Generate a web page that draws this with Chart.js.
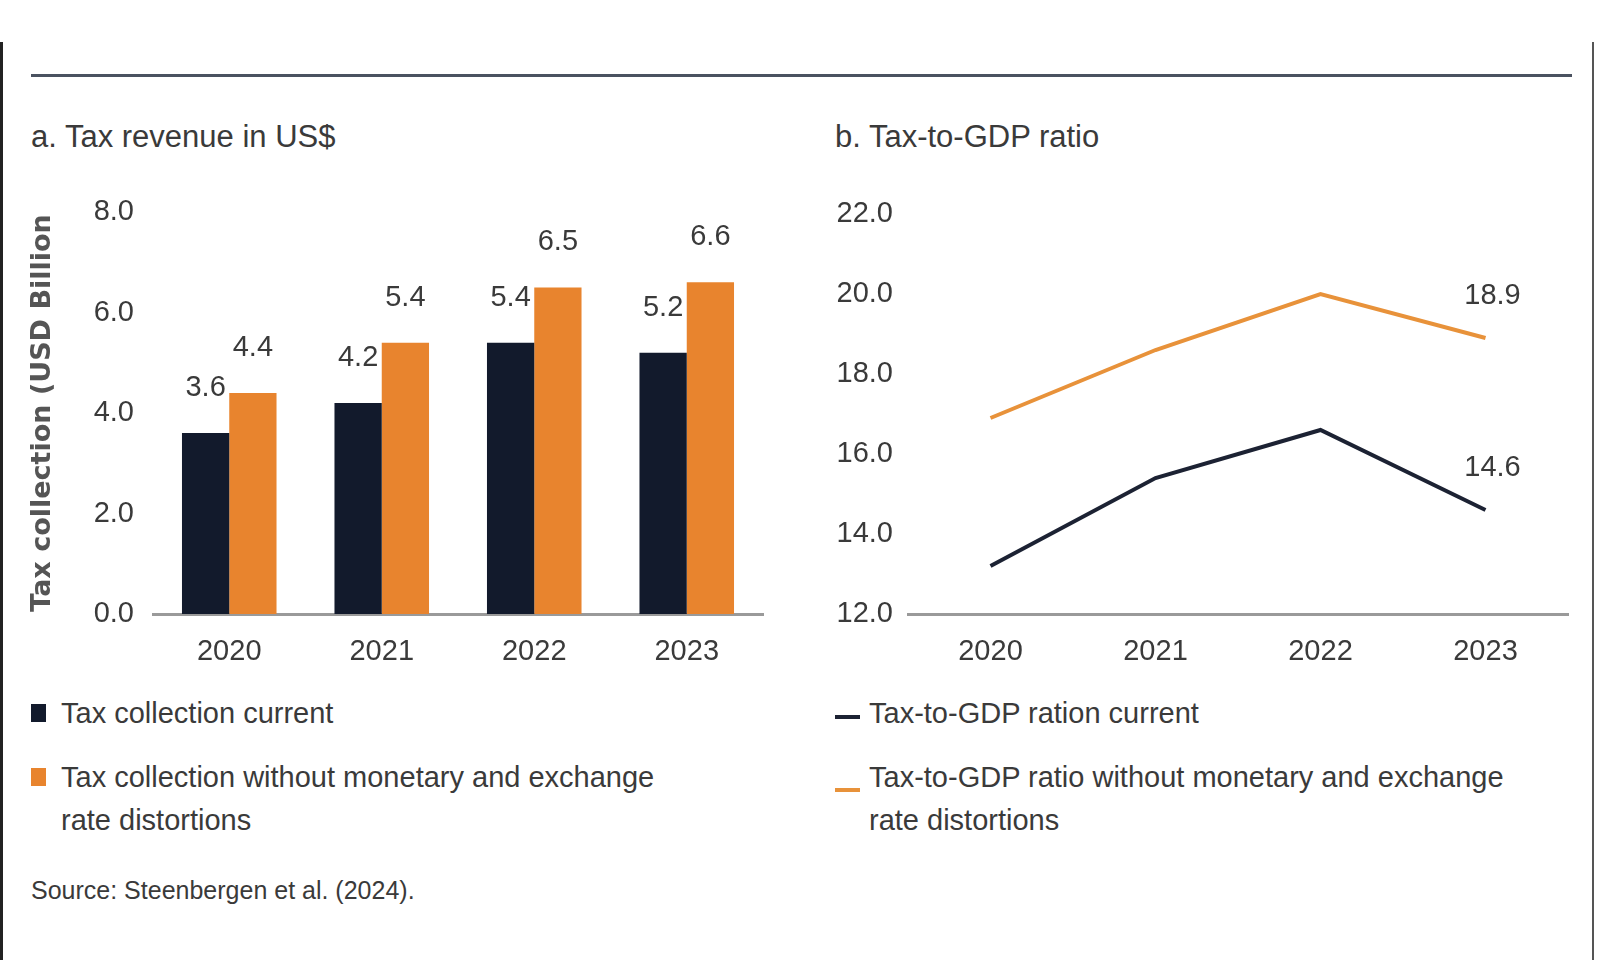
<!DOCTYPE html>
<html>
<head>
<meta charset="utf-8">
<script src="https://cdn.jsdelivr.net/npm/chart.js@4.4.1/dist/chart.umd.min.js"></script>
<style>
  body {
    margin: 0; width: 1600px; height: 960px; background: #fff;
    position: relative; overflow: hidden; color: #3a3a3a;
    font-family: 'Liberation Sans', Arial, sans-serif;
  }
  .frame-l { position: absolute; left: 0; top: 42px; width: 3px; height: 918px; background: #222; }
  .frame-r { position: absolute; left: 1592px; top: 42px; width: 2px; height: 918px; background: #555; }
  .rule { position: absolute; left: 31px; top: 74px; width: 1541px; height: 3px; background: #4a5260; }
  .title { position: absolute; top: 121px; font-size: 31px; line-height: 32px; white-space: nowrap; }
  .box { position: absolute; top: 190px; height: 490px; }
  .legend { position: absolute; top: 692px; font-size: 29px; line-height: 43px; }
  .item { position: relative; padding-left: 30px; white-space: nowrap; }
  .item.gap { margin-top: 21px; }
  .sq { position: absolute; left: 0; top: 12px; width: 15px; height: 18px; }
  .dash { position: absolute; left: 0; width: 25px; height: 4px; }
  .source { position: absolute; left: 31px; top: 874px; font-size: 25px; line-height: 32px; white-space: nowrap; }
</style>
</head>
<body>
<div class="frame-l"></div>
<div class="frame-r"></div>
<div class="rule"></div>

<div class="title" style="left:31px">a. Tax revenue in US$</div>
<div class="title" style="left:835px">b. Tax-to-GDP ratio</div>

<div class="box" style="left:0; width:780px"><canvas id="bar-chart"></canvas></div>
<div class="box" style="left:800px; width:790px"><canvas id="line-chart"></canvas></div>

<div class="legend" style="left:31px">
  <div class="item"><span class="sq" style="background:#121a2c"></span>Tax collection current</div>
  <div class="item gap"><span class="sq" style="background:#e8842e"></span>Tax collection without monetary and exchange<br>rate distortions</div>
</div>
<div class="legend" style="left:835px">
  <div class="item" style="padding-left:34px"><span class="dash" style="top:23px; background:#1c2233"></span>Tax-to-GDP ration current</div>
  <div class="item gap" style="padding-left:34px"><span class="dash" style="top:32px; background:#e8923a"></span>Tax-to-GDP ratio without monetary and exchange<br>rate distortions</div>
</div>

<div class="source">Source: Steenbergen et al. (2024).</div>

<script>
const years = ['2020', '2021', '2022', '2023'];

// panel a: tax collection, USD billion
const taxCurrent = [3.6, 4.2, 5.4, 5.2];
const taxUndistorted = [4.4, 5.4, 6.5, 6.6];

// panel b: tax-to-GDP ratio, %
const ratioCurrent = [13.2, 15.4, 16.6, 14.6];
const ratioUndistorted = [16.9, 18.6, 20.0, 18.9];

const barTicks = [0, 8, 2];    // min, max, step
const lineTicks = [12, 22, 2];

const NAVY = '#121a2c';
const ORANGE = '#e8842e';
const TEXT = '#3a3a3a';
const FONT = "'Liberation Sans', Arial, sans-serif";

// value labels above the marks
const valueLabels = {
    id: 'valueLabels',
    afterDatasetsDraw(chart, args, opts) {
        const ctx = chart.ctx;
        ctx.save();
        ctx.font = `29px ${FONT}`;
        ctx.fillStyle = TEXT;
        ctx.textAlign = 'center';
        ctx.textBaseline = 'middle';
        chart.data.datasets.forEach((ds, i) => {
            chart.getDatasetMeta(i).data.forEach((el, j) => {
                if (opts.lastOnly && j !== ds.data.length - 1) return;
                ctx.fillText(ds.data[j].toFixed(1), el.x + opts.dx, el.y - opts.dy);
            });
        });
        ctx.restore();
    }
};

const tickFont = { family: FONT, size: 29 };

// fixed y axis width, and no extra padding from the tick labels
const fixWidth = (w) => (scale) => {
    scale.width = w;
    scale.paddingTop = 0;
    scale.paddingBottom = 0;
};

const xAxis = {
    offset: true,
    grid: { display: false, drawTicks: false },
    border: { display: true, color: '#9a9a9a', width: 3 },
    ticks: { color: TEXT, font: tickFont, padding: 21 },
    afterFit: (scale) => { scale.height = 66; }
};

new Chart(document.getElementById('bar-chart'), {
    type: 'bar',
    data: {
        labels: years,
        datasets: [
            { label: 'Tax collection current', data: taxCurrent, backgroundColor: NAVY },
            { label: 'Tax collection without monetary and exchange rate distortions', data: taxUndistorted, backgroundColor: ORANGE }
        ]
    },
    options: {
        responsive: true,
        maintainAspectRatio: false,
        animation: false,
        layout: { padding: { top: 22, right: 17, left: 0, bottom: 0 } },
        datasets: { bar: { barPercentage: 1, categoryPercentage: 0.62 } },
        plugins: {
            legend: { display: false },
            tooltip: { enabled: false },
            valueLabels: { dx: 0, dy: 45, lastOnly: false }
        },
        scales: {
            x: xAxis,
            y: {
                min: barTicks[0], max: barTicks[1],
                grid: { display: false, drawTicks: false },
                border: { display: false },
                ticks: { stepSize: barTicks[2], color: TEXT, font: tickFont, padding: 19, callback: v => v.toFixed(1) },
                title: {
                    display: true,
                    text: 'Tax collection (USD Billion',
                    color: '#555',
                    font: { family: "'DejaVu Sans', sans-serif", size: 27, weight: 'bold' },
                    padding: { top: 27, bottom: 0 }
                },
                afterFit: fixWidth(153)
            }
        }
    },
    plugins: [valueLabels]
});

new Chart(document.getElementById('line-chart'), {
    type: 'line',
    data: {
        labels: years,
        datasets: [
            { label: 'Tax-to-GDP ration current', data: ratioCurrent, borderColor: '#1c2233', borderWidth: 4, pointRadius: 0, tension: 0 },
            { label: 'Tax-to-GDP ratio without monetary and exchange rate distortions', data: ratioUndistorted, borderColor: '#e8923a', borderWidth: 4, pointRadius: 0, tension: 0 }
        ]
    },
    options: {
        responsive: true,
        maintainAspectRatio: false,
        animation: false,
        layout: { padding: { top: 24, right: 22, left: 0, bottom: 0 } },
        plugins: {
            legend: { display: false },
            tooltip: { enabled: false },
            valueLabels: { dx: 7, dy: 42, lastOnly: true }
        },
        scales: {
            x: xAxis,
            y: {
                min: lineTicks[0], max: lineTicks[1],
                grid: { display: false, drawTicks: false },
                border: { display: false },
                ticks: { stepSize: lineTicks[2], color: TEXT, font: tickFont, padding: 15, callback: v => v.toFixed(1) },
                afterFit: fixWidth(108)
            }
        }
    },
    plugins: [valueLabels]
});
</script>
</body>
</html>
